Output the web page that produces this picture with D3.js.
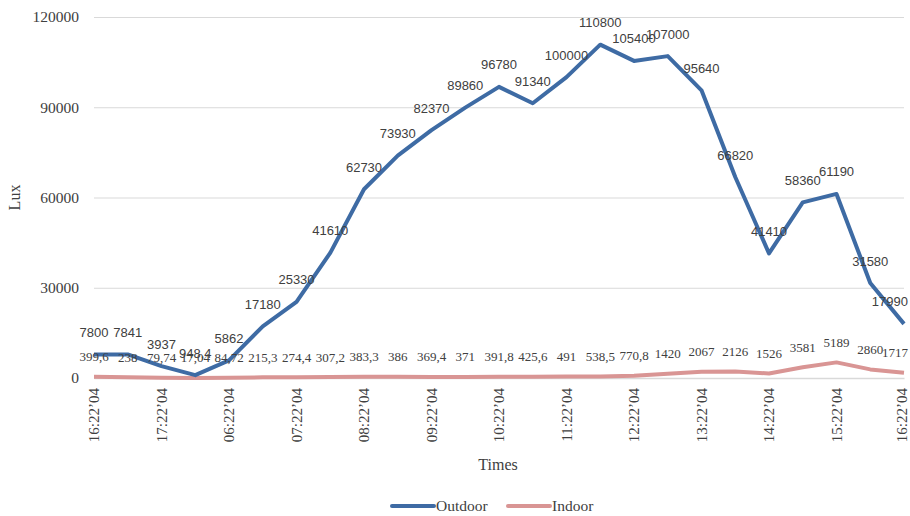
<!DOCTYPE html>
<html>
<head>
<meta charset="utf-8">
<script src="https://cdn.jsdelivr.net/npm/d3@7"></script>
<style>
  body { margin: 0; background: #fff; }
  svg { display: block; }
</style>
</head>
<body>
<div id="lineChart"></div>
<script>
// tick labels, shown at every second reading
var timeLabels = ["16:22’04", "17:22’04", "06:22’04", "07:22’04", "08:22’04", "09:22’04",
                  "10:22’04", "11:22’04", "12:22’04", "13:22’04", "14:22’04", "15:22’04", "16:22’04"];

var outdoor = [7800, 7841, 3937, 948.4, 5862, 17180, 25330, 41610, 62730, 73930, 82370, 89860,
               96780, 91340, 100000, 110800, 105400, 107000, 95640, 66820, 41410, 58360, 61190, 31580, 17990];

var indoor = [399.6, 238, 79.74, 17.04, 84.72, 215.3, 274.4, 307.2, 383.3, 386, 369.4, 371,
              391.8, 425.6, 491, 538.5, 770.8, 1420, 2067, 2126, 1526, 3581, 5189, 2860, 1717];

var yTicks = [0, 30000, 60000, 90000, 120000];

var svgWidth = 910, svgHeight = 516;
var margin = {top: 17, right: 6, bottom: 138, left: 94};
var width = svgWidth - margin.left - margin.right;
var height = svgHeight - margin.top - margin.bottom;

var x = d3.scaleLinear().domain([0, outdoor.length - 1]).range([0, width]),
    y = d3.scaleLinear().domain([0, 120000]).range([height, 0]);

var svg = d3.select("#lineChart").append("svg")
    .attr("width", svgWidth)
    .attr("height", svgHeight);

var g = svg.append("g")
    .attr("transform", "translate(" + margin.left + "," + margin.top + ")");

var serif = "'Liberation Serif', 'Times New Roman', serif";

function fmt(v) { return String(v).replace(".", ","); }

// gridlines + y labels
var yAxis = d3.axisLeft(y).tickValues(yTicks).tickSize(-width).tickPadding(15).tickFormat(d3.format("d"));
g.append("g")
    .attr("class", "yAxis")
    .attr("font-family", serif)
    .call(yAxis)
    .call(function(a) {
        a.select(".domain").remove();
        a.selectAll("line").attr("stroke", "#d9d9d9").attr("stroke-width", 1);
        a.selectAll("text")
            .attr("font-family", serif)
            .attr("font-size", "15.5px")
            .attr("fill", "#404040");
    });

// x axis
var lastTick = outdoor.length - 1;
var xAxis = d3.axisBottom(x)
    .tickValues(d3.range(0, outdoor.length, 2))
    .tickSize(0)
    .tickFormat(function(d) { return timeLabels[d / 2]; });
g.append("g")
    .attr("class", "xAxis")
    .attr("font-family", serif)
    .attr("transform", "translate(0," + height + ")")
    .call(xAxis)
    .call(function(a) {
        a.select(".domain").attr("stroke", "#d9d9d9").attr("stroke-width", 1.5);
        a.selectAll("text")
            .attr("font-family", serif)
            .attr("font-size", "15px")
            .attr("fill", "#404040")
            .attr("transform", "rotate(-90)")
            .attr("text-anchor", "end")
            .attr("dy", function(d) { return d === lastTick ? "0.15em" : "0.33em"; })
            .attr("x", -10)
            .attr("y", 0);
    });

var line = d3.line()
    .x(function(d, i) { return x(i); })
    .y(function(d) { return y(d); });

g.append("path")
    .datum(indoor)
    .attr("fill", "none")
    .attr("stroke", "#d99594")
    .attr("stroke-width", 4)
    .attr("stroke-linejoin", "round")
    .attr("d", line);

g.append("path")
    .datum(outdoor)
    .attr("fill", "none")
    .attr("stroke", "#3e6ba4")
    .attr("stroke-width", 4)
    .attr("stroke-linejoin", "round")
    .attr("d", line);

// keep labels inside the chart on the right side
function clampRight(sel) {
    sel.each(function() {
        var t = d3.select(this);
        var w = this.getComputedTextLength();
        var cx = +t.attr("x");
        var maxX = svgWidth - margin.left - 2;
        if (cx + w / 2 > maxX) t.attr("x", maxX - w / 2);
    });
}

// data labels
g.append("g").selectAll("text")
    .data(indoor)
    .enter().append("text")
    .attr("x", function(d, i) { return x(i); })
    .attr("y", function(d) { return y(d) - 20; })
    .attr("dy", "0.35em")
    .attr("text-anchor", "middle")
    .attr("font-family", serif)
    .attr("font-size", "13px")
    .attr("fill", "#404040")
    .text(fmt)
    .call(clampRight);

g.append("g").selectAll("text")
    .data(outdoor)
    .enter().append("text")
    .attr("x", function(d, i) { return x(i); })
    .attr("y", function(d) { return y(d) - 22; })
    .attr("dy", "0.35em")
    .attr("text-anchor", "middle")
    .attr("font-family", "'Liberation Sans', Arial, sans-serif")
    .attr("font-size", "13px")
    .attr("fill", "#404040")
    .text(fmt)
    .call(clampRight);

// axis titles
svg.append("text")
    .attr("transform", "translate(20," + (margin.top + height / 2) + ") rotate(-90)")
    .attr("text-anchor", "middle")
    .attr("font-family", serif)
    .attr("font-size", "16px")
    .attr("fill", "#404040")
    .text("Lux");

svg.append("text")
    .attr("x", 498)
    .attr("y", 470)
    .attr("text-anchor", "middle")
    .attr("font-family", serif)
    .attr("font-size", "16px")
    .attr("fill", "#404040")
    .text("Times");

// legend
var legend = svg.append("g").attr("transform", "translate(392,506)");
var items = [{name: "Outdoor", color: "#3e6ba4"}, {name: "Indoor", color: "#d99594"}];
var li = legend.selectAll("g").data(items).enter().append("g")
    .attr("transform", function(d, i) { return "translate(" + (i * 116) + ",0)"; });
li.append("line")
    .attr("x1", 0).attr("x2", 42).attr("y1", 0).attr("y2", 0)
    .attr("stroke", function(d) { return d.color; })
    .attr("stroke-width", 4)
    .attr("stroke-linecap", "round");
li.append("text")
    .attr("x", 44)
    .attr("dy", "0.35em")
    .attr("font-family", serif)
    .attr("font-size", "15.5px")
    .attr("fill", "#404040")
    .text(function(d) { return d.name; });
</script>
</body>
</html>
